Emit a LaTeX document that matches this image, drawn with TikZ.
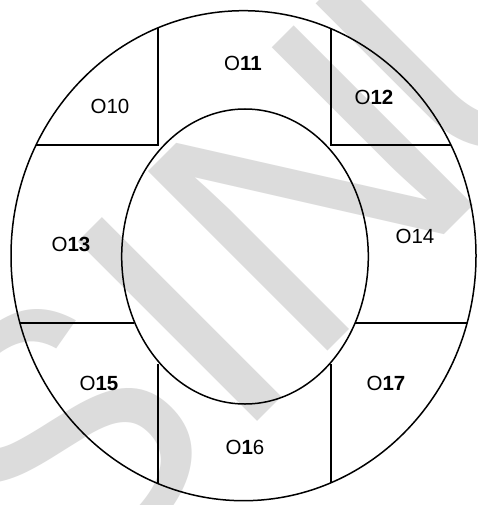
\documentclass[tikz,border=0pt]{standalone}
\usepackage{fontspec}
\setmainfont{Liberation Sans}
\definecolor{wmgray}{RGB}{220,220,220}
\begin{document}
\begin{tikzpicture}[x=1pt,y=-1pt,
  line/.style={draw=black,line width=1.5pt},
  lbl/.style={font=\fontsize{20.5}{23}\selectfont,inner sep=0pt},
  wmark/.style={text=wmgray,font=\fontsize{369}{400}\selectfont,inner sep=0pt,anchor=base west,rotate=45}]
\useasboundingbox (0,0) rectangle (477,505);
\fill[white] (0,0) rectangle (477,505);
% watermark, diagonal at 45 degrees
\begin{scope}
\clip (0,0) rectangle (477,505);
\node[wmark] (wm) at (59.6,619.5) {SIN\kern-28pt U};
\end{scope}
\coordinate (oc) at (243.5,255.7);
\coordinate (ic) at (245,256.5);
% junction coordinates (outer ends run past the rim and are clipped)
\coordinate (tlv0) at (158,0);
\coordinate (tlj) at (158,145);
\coordinate (tlh0) at (0,145);
\coordinate (trv0) at (331,0);
\coordinate (trj) at (331,145);
\coordinate (trh1) at (477,145);
\coordinate (blh0) at (0,323);
\coordinate (blh1) at (134,323);
\coordinate (brh0) at (355,323);
\coordinate (brh1) at (477,323);
\coordinate (blv0) at (158,364);
\coordinate (blv1) at (158,505);
\coordinate (brv0) at (331,364);
\coordinate (brv1) at (331,505);
\begin{scope}
\clip (oc) ellipse [x radius=232.5, y radius=245];
\draw[line] (tlv0) -- (tlj) -- (tlh0);
\draw[line] (trv0) -- (trj) -- (trh1);
\draw[line] (blh0) -- (blh1);
\draw[line] (brh0) -- (brh1);
\draw[line] (blv0) -- (blv1);
\draw[line] (brv0) -- (brv1);
\end{scope}
\draw[line] (oc) ellipse [x radius=232.5, y radius=245];
\draw[line] (ic) ellipse [x radius=123.3, y radius=147.5];
% labels
\node[lbl] (o10) at (110,106) {O10};
\node[lbl] (o11) at (243,63) {O\textbf{11}};
\node[lbl] (o12) at (374,97) {O\textbf{12}};
\node[lbl] (o13) at (71,244) {O\textbf{13}};
\node[lbl] (o14) at (415,236) {O14};
\node[lbl] (o15) at (99,383) {O\textbf{15}};
\node[lbl] (o16) at (245,447) {O\textbf{1}6};
\node[lbl] (o17) at (386,383) {O\textbf{17}};
\end{tikzpicture}
\end{document}
